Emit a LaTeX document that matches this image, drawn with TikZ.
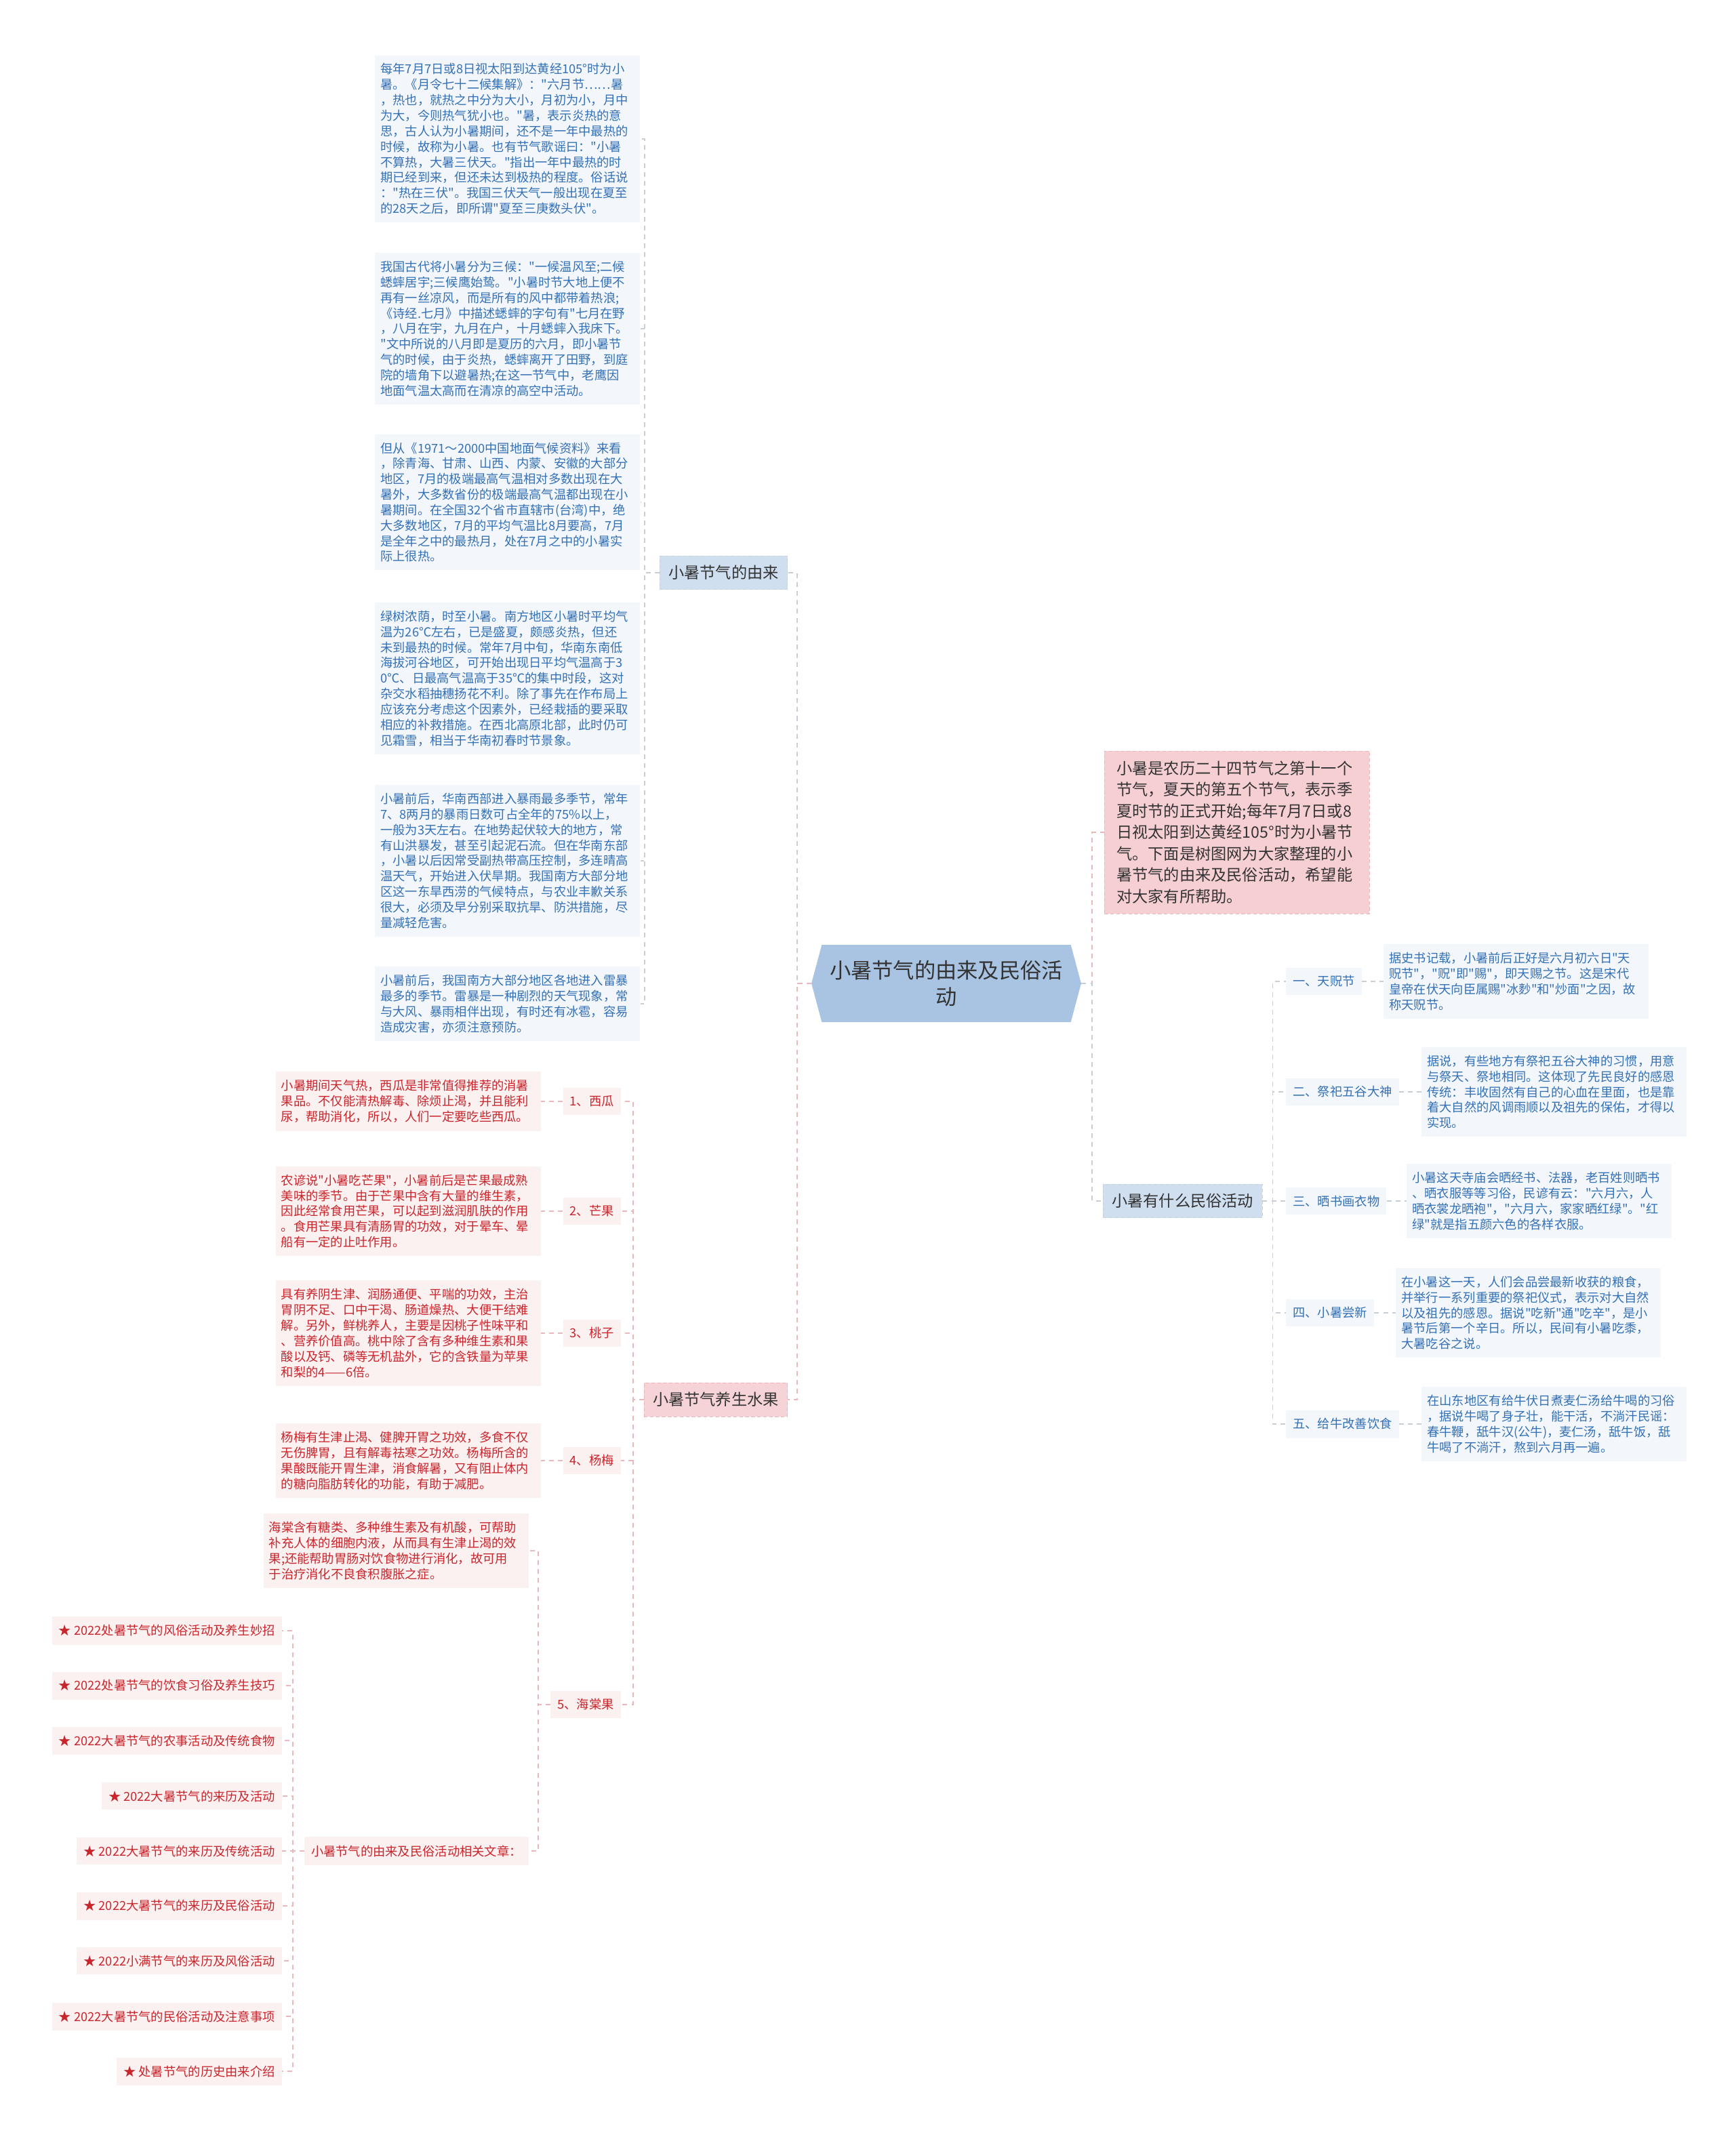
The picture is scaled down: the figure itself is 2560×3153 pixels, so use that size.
\documentclass[tikz,border=0pt]{standalone}
\usepackage{fontspec}
\newfontfamily\cjkfont{Noto Sans CJK SC}
\usetikzlibrary{shapes.symbols}
\definecolor{bluetext}{HTML}{3470B5}
\definecolor{blueback}{HTML}{F3F7FC}
\definecolor{redtext}{HTML}{C8252C}
\definecolor{redback}{HTML}{FCF1F1}
\definecolor{darktext}{HTML}{333333}
\definecolor{bluefill}{HTML}{CFDFF0}
\definecolor{pinkfill}{HTML}{F6D3D6}
\definecolor{introfill}{HTML}{F6CFD2}
\definecolor{hubfill}{HTML}{A8C4E2}
\definecolor{greyline}{HTML}{C8CED6}
\definecolor{pinkline}{HTML}{E9B8BC}
\tikzset{
	bluenote/.style={fill=blueback, text=bluetext, align=left, text width=7.5cm, inner xsep=0.16cm, inner ysep=0.24cm, font=\cjkfont\fontsize{10.4}{13}\selectfont},
	rednote/.style={bluenote, fill=redback, text=redtext},
	bluetag/.style={fill=blueback, text=bluetext, inner xsep=0.2cm, inner ysep=0.24cm, font=\cjkfont\fontsize{10.4}{13}\selectfont},
	redtag/.style={bluetag, fill=redback, text=redtext},
	bluebranch/.style={fill=bluefill, draw=bluefill!80!black!60, densely dashed, text=darktext, inner xsep=0.26cm, inner ysep=0.28cm, font=\cjkfont\fontsize{13.2}{16}\selectfont},
	redbranch/.style={bluebranch, fill=pinkfill, draw=pinkline},
	introbox/.style={fill=introfill, draw=pinkline, densely dashed, text=darktext, align=left, text width=7.1cm, inner xsep=0.36cm, inner ysep=0.3cm, font=\cjkfont\fontsize{13.2}{17.9}\selectfont},
	hubnode/.style={signal, signal to=west and east, signal pointer angle=150, fill=hubfill, text=darktext, align=center, minimum width=7.96cm, minimum height=2.28cm, font=\cjkfont\fontsize{17.8}{22.7}\selectfont},
	greylink/.style={draw=greyline, line width=1pt, dash pattern=on 4pt off 3.5pt},
	pinklink/.style={greylink, draw=pinkline}
}
\begin{document}
\begin{tikzpicture}[x=0.02cm, y=-0.02cm]
	\useasboundingbox (0,0) rectangle (2560,3153);
	
	\node[hubnode] (hub) at (1396,1451) {小暑节气的由来及民俗活\\动};
	
	\node[bluebranch, anchor=east] (origin) at (1162,845) {小暑节气的由来};
	\node[redbranch, anchor=east] (fruit) at (1162,2065) {小暑节气养生水果};
	\node[introbox, anchor=west] (intro) at (1629,1228) {小暑是农历二十四节气之第十一个\\节气，夏天的第五个节气，表示季\\夏时节的正式开始;每年7月7日或8\\日视太阳到达黄经105°时为小暑节\\气。下面是树图网为大家整理的小\\暑节气的由来及民俗活动，希望能\\对大家有所帮助。};
	\node[bluebranch, anchor=west] (custom) at (1627,1772) {小暑有什么民俗活动};
	
	\node[bluenote, anchor=west] (origin1) at (553,205) {每年7月7日或8日视太阳到达黄经105°时为小\\暑。《月令七十二候集解》："六月节……暑\\，热也，就热之中分为大小，月初为小，月中\\为大，今则热气犹小也。"暑，表示炎热的意\\思，古人认为小暑期间，还不是一年中最热的\\时候，故称为小暑。也有节气歌谣曰："小暑\\不算热，大暑三伏天。"指出一年中最热的时\\期已经到来，但还未达到极热的程度。俗话说\\："热在三伏"。我国三伏天气一般出现在夏至\\的28天之后，即所谓"夏至三庚数头伏"。};
	\node[bluenote, anchor=west] (origin2) at (553,485) {我国古代将小暑分为三候："一候温风至;二候\\蟋蟀居宇;三候鹰始鸷。"小暑时节大地上便不\\再有一丝凉风，而是所有的风中都带着热浪;\\《诗经.七月》中描述蟋蟀的字句有"七月在野\\，八月在宇，九月在户，十月蟋蟀入我床下。\\"文中所说的八月即是夏历的六月，即小暑节\\气的时候，由于炎热，蟋蟀离开了田野，到庭\\院的墙角下以避暑热;在这一节气中，老鹰因\\地面气温太高而在清凉的高空中活动。};
	\node[bluenote, anchor=west] (origin3) at (553,741) {但从《1971～2000中国地面气候资料》来看\\，除青海、甘肃、山西、内蒙、安徽的大部分\\地区，7月的极端最高气温相对多数出现在大\\暑外，大多数省份的极端最高气温都出现在小\\暑期间。在全国32个省市直辖市(台湾)中，绝\\大多数地区，7月的平均气温比8月要高，7月\\是全年之中的最热月，处在7月之中的小暑实\\际上很热。};
	\node[bluenote, anchor=west] (origin4) at (553,1001) {绿树浓荫，时至小暑。南方地区小暑时平均气\\温为26℃左右，已是盛夏，颇感炎热，但还\\未到最热的时候。常年7月中旬，华南东南低\\海拔河谷地区，可开始出现日平均气温高于3\\0℃、日最高气温高于35℃的集中时段，这对\\杂交水稻抽穗扬花不利。除了事先在作布局上\\应该充分考虑这个因素外，已经栽插的要采取\\相应的补救措施。在西北高原北部，此时仍可\\见霜雪，相当于华南初春时节景象。};
	\node[bluenote, anchor=west] (origin5) at (553,1270) {小暑前后，华南西部进入暴雨最多季节，常年\\7、8两月的暴雨日数可占全年的75\%以上，\\一般为3天左右。在地势起伏较大的地方，常\\有山洪暴发，甚至引起泥石流。但在华南东部\\，小暑以后因常受副热带高压控制，多连晴高\\温天气，开始进入伏旱期。我国南方大部分地\\区这一东旱西涝的气候特点，与农业丰歉关系\\很大，必须及早分别采取抗旱、防洪措施，尽\\量减轻危害。};
	\node[bluenote, anchor=west] (origin6) at (553,1481) {小暑前后，我国南方大部分地区各地进入雷暴\\最多的季节。雷暴是一种剧烈的天气现象，常\\与大风、暴雨相伴出现，有时还有冰雹，容易\\造成灾害，亦须注意预防。};
	
	\node[redtag, anchor=east] (melon) at (916,1625) {1、西瓜};
	\node[redtag, anchor=east] (mango) at (916,1787) {2、芒果};
	\node[redtag, anchor=east] (peach) at (916,1967) {3、桃子};
	\node[redtag, anchor=east] (bayberry) at (916,2155) {4、杨梅};
	\node[redtag, anchor=east] (crabapple) at (916,2515) {5、海棠果};
	\node[rednote, anchor=east] (melontxt) at (798,1625) {小暑期间天气热，西瓜是非常值得推荐的消暑\\果品。不仅能清热解毒、除烦止渴，并且能利\\尿，帮助消化，所以，人们一定要吃些西瓜。};
	\node[rednote, anchor=east] (mangotxt) at (798,1787) {农谚说"小暑吃芒果"，小暑前后是芒果最成熟\\美味的季节。由于芒果中含有大量的维生素，\\因此经常食用芒果，可以起到滋润肌肤的作用\\。食用芒果具有清肠胃的功效，对于晕车、晕\\船有一定的止吐作用。};
	\node[rednote, anchor=east] (peachtxt) at (798,1967) {具有养阴生津、润肠通便、平喘的功效，主治\\胃阴不足、口中干渴、肠道燥热、大便干结难\\解。另外，鲜桃养人，主要是因桃子性味平和\\、营养价值高。桃中除了含有多种维生素和果\\酸以及钙、磷等无机盐外，它的含铁量为苹果\\和梨的4——6倍。};
	\node[rednote, anchor=east] (bayberrytxt) at (798,2155) {杨梅有生津止渴、健脾开胃之功效，多食不仅\\无伤脾胃，且有解毒祛寒之功效。杨梅所含的\\果酸既能开胃生津，消食解暑，又有阻止体内\\的糖向脂肪转化的功能，有助于减肥。};
	\node[rednote, anchor=east] (crabappletxt) at (780,2288) {海棠含有糖类、多种维生素及有机酸，可帮助\\补充人体的细胞内液，从而具有生津止渴的效\\果;还能帮助胃肠对饮食物进行消化，故可用\\于治疗消化不良食积腹胀之症。};
	\node[redtag, anchor=east] (related) at (780,2731) {小暑节气的由来及民俗活动相关文章：};
	
	\node[redtag, anchor=east] (art1) at (416,2406) {★ 2022处暑节气的风俗活动及养生妙招};
	\node[redtag, anchor=east] (art2) at (416,2487) {★ 2022处暑节气的饮食习俗及养生技巧};
	\node[redtag, anchor=east] (art3) at (416,2568) {★ 2022大暑节气的农事活动及传统食物};
	\node[redtag, anchor=east] (art4) at (416,2650) {★ 2022大暑节气的来历及活动};
	\node[redtag, anchor=east] (art5) at (416,2731) {★ 2022大暑节气的来历及传统活动};
	\node[redtag, anchor=east] (art6) at (416,2812) {★ 2022大暑节气的来历及民俗活动};
	\node[redtag, anchor=east] (art7) at (416,2893) {★ 2022小满节气的来历及风俗活动};
	\node[redtag, anchor=east] (art8) at (416,2975) {★ 2022大暑节气的民俗活动及注意事项};
	\node[redtag, anchor=east] (art9) at (416,3056) {★ 处暑节气的历史由来介绍};
	
	\node[bluetag, anchor=west] (tianKuang) at (1897,1448) {一、天贶节};
	\node[bluetag, anchor=west] (jisi) at (1897,1611) {二、祭祀五谷大神};
	\node[bluetag, anchor=west] (shaishu) at (1897,1772) {三、晒书画衣物};
	\node[bluetag, anchor=west] (changxin) at (1897,1937) {四、小暑尝新};
	\node[bluetag, anchor=west] (geiniu) at (1897,2101) {五、给牛改善饮食};
	\node[bluenote, anchor=west] (tianKuangtxt) at (2041,1448) {据史书记载，小暑前后正好是六月初六日"天\\贶节"，"贶"即"赐"，即天赐之节。这是宋代\\皇帝在伏天向臣属赐"冰麨"和"炒面"之因，故\\称天贶节。};
	\node[bluenote, anchor=west] (jisitxt) at (2097,1611) {据说，有些地方有祭祀五谷大神的习惯，用意\\与祭天、祭地相同。这体现了先民良好的感恩\\传统：丰收固然有自己的心血在里面，也是靠\\着大自然的风调雨顺以及祖先的保佑，才得以\\实现。};
	\node[bluenote, anchor=west] (shaishutxt) at (2075,1772) {小暑这天寺庙会晒经书、法器，老百姓则晒书\\、晒衣服等等习俗，民谚有云："六月六，人\\晒衣裳龙晒袍"，"六月六，家家晒红绿"。"红\\绿"就是指五颜六色的各样衣服。};
	\node[bluenote, anchor=west] (changxintxt) at (2059,1937) {在小暑这一天，人们会品尝最新收获的粮食，\\并举行一系列重要的祭祀仪式，表示对大自然\\以及祖先的感恩。据说"吃新"通"吃辛"，是小\\暑节后第一个辛日。所以，民间有小暑吃黍，\\大暑吃谷之说。};
	\node[bluenote, anchor=west] (geiniutxt) at (2097,2101) {在山东地区有给牛伏日煮麦仁汤给牛喝的习俗\\，据说牛喝了身子壮，能干活，不淌汗民谣：\\春牛鞭，舐牛汉(公牛)，麦仁汤，舐牛饭，舐\\牛喝了不淌汗，熬到六月再一遍。};
	
	\draw[greylink] (hub.west) -- ++(-21,0) |- (origin.east);
	\draw[pinklink] (hub.west) -- ++(-21,0) |- (fruit.east);
	\draw[pinklink] (hub.east) -- ++(16,0) |- (intro.west);
	\draw[greylink] (hub.east) -- ++(16,0) |- (custom.west);
	
	\draw[greylink] (origin.west) -- ++(-22,0) |- (origin1.east);
	\draw[greylink] (origin.west) -- ++(-22,0) |- (origin2.east);
	\draw[greylink] (origin.west) -- ++(-22,0) |- (origin3.east);
	\draw[greylink] (origin.west) -- ++(-22,0) |- (origin4.east);
	\draw[greylink] (origin.west) -- ++(-22,0) |- (origin5.east);
	\draw[greylink] (origin.west) -- ++(-22,0) |- (origin6.east);
	
	\draw[pinklink] (fruit.west) -- ++(-16,0) |- (melon.east);
	\draw[pinklink] (fruit.west) -- ++(-16,0) |- (mango.east);
	\draw[pinklink] (fruit.west) -- ++(-16,0) |- (peach.east);
	\draw[pinklink] (fruit.west) -- ++(-16,0) |- (bayberry.east);
	\draw[pinklink] (fruit.west) -- ++(-16,0) |- (crabapple.east);
	\draw[pinklink] (melon.west) -- (melontxt.east);
	\draw[pinklink] (mango.west) -- (mangotxt.east);
	\draw[pinklink] (peach.west) -- (peachtxt.east);
	\draw[pinklink] (bayberry.west) -- (bayberrytxt.east);
	\draw[pinklink] (crabapple.west) -- ++(-18,0) |- (crabappletxt.east);
	\draw[pinklink] (crabapple.west) -- ++(-18,0) |- (related.east);
	
	\draw[pinklink] (related.west) -- ++(-17,0) |- (art1.east);
	\draw[pinklink] (related.west) -- ++(-17,0) |- (art2.east);
	\draw[pinklink] (related.west) -- ++(-17,0) |- (art3.east);
	\draw[pinklink] (related.west) -- ++(-17,0) |- (art4.east);
	\draw[pinklink] (related.west) -- (art5.east);
	\draw[pinklink] (related.west) -- ++(-17,0) |- (art6.east);
	\draw[pinklink] (related.west) -- ++(-17,0) |- (art7.east);
	\draw[pinklink] (related.west) -- ++(-17,0) |- (art8.east);
	\draw[pinklink] (related.west) -- ++(-17,0) |- (art9.east);
	
	\draw[greylink] (custom.east) -- ++(15,0) |- (tianKuang.west);
	\draw[greylink] (custom.east) -- ++(15,0) |- (jisi.west);
	\draw[greylink] (custom.east) -- ++(15,0) |- (shaishu.west);
	\draw[greylink] (custom.east) -- ++(15,0) |- (changxin.west);
	\draw[greylink] (custom.east) -- ++(15,0) |- (geiniu.west);
	\draw[greylink] (tianKuang.east) -- (tianKuangtxt.west);
	\draw[greylink] (jisi.east) -- (jisitxt.west);
	\draw[greylink] (shaishu.east) -- (shaishutxt.west);
	\draw[greylink] (changxin.east) -- (changxintxt.west);
	\draw[greylink] (geiniu.east) -- (geiniutxt.west);
\end{tikzpicture}
\end{document}
